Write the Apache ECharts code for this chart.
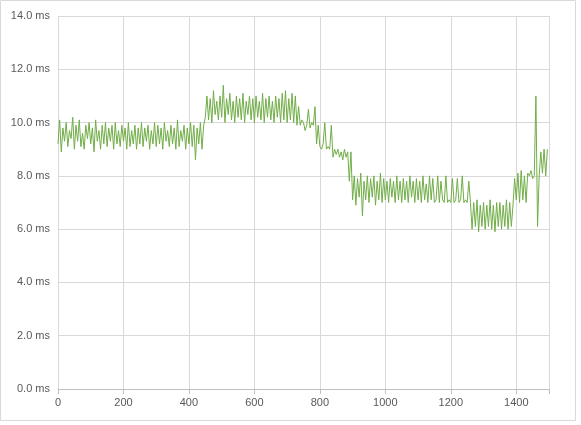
<!DOCTYPE html>
<html>
<head>
<meta charset="utf-8">
<script src="https://cdn.jsdelivr.net/npm/echarts@6/dist/echarts.min.js"></script>
<style>html,body{margin:0;padding:0;background:#fff}#chart{width:581px;height:425px}</style>
</head>
<body>
<div id="chart"></div>
<script>
// 采样间隔 5，数值从图上读出 (ms)
var step = 5;
var latency = [
 9.2,10.1,8.9,9.8,9.3,10.0,9.1,9.7,9.4,10.2,
 9.0,9.9,9.3,10.1,9.1,9.6,9.0,9.9,9.4,10.0,
 9.2,9.8,8.9,10.1,9.3,9.7,9.0,9.9,9.2,10.0,
 9.1,9.8,9.3,9.9,9.0,10.0,9.2,9.7,9.1,9.9,
 9.3,9.8,9.0,10.0,9.1,9.7,9.2,9.9,9.0,9.8,
 9.2,10.0,9.1,9.8,9.3,9.9,9.0,9.7,9.2,10.0,
 9.1,9.9,9.2,9.8,9.0,10.0,9.3,9.7,9.1,9.9,
 9.2,9.8,9.0,10.1,9.1,9.7,9.3,9.9,9.0,9.8,
 9.2,10.0,9.1,9.9,8.6,9.8,9.2,10.0,9.0,9.9,
 10.2,11.0,10.1,10.9,10.0,11.2,10.3,10.8,10.1,11.0,
 10.2,11.4,10.0,10.9,10.3,11.1,10.1,10.8,10.0,11.0,
 10.2,10.9,10.1,11.1,10.0,10.8,10.3,11.0,10.1,10.9,
 10.0,11.0,10.2,10.8,10.1,11.1,10.0,10.9,10.2,11.0,
 10.1,10.8,10.0,11.0,10.2,10.9,10.0,11.1,10.1,11.2,
 10.0,10.9,10.1,11.1,10.0,11.0,9.9,10.6,9.9,10.1,
 10.0,9.7,9.9,10.5,9.8,10.0,9.9,10.6,9.2,9.9,
 9.1,9.0,9.2,10.0,9.0,9.1,9.0,9.9,8.7,9.0,
 8.8,9.0,8.7,8.9,8.6,9.0,8.7,8.9,7.8,8.9,
 7.1,8.0,6.9,7.9,7.2,8.1,6.5,7.8,7.1,8.0,
 7.0,7.9,7.2,8.0,6.9,7.8,7.1,8.1,7.0,7.9,
 7.1,7.8,7.0,7.9,7.2,7.8,7.0,8.0,7.1,7.8,
 7.0,7.9,7.1,7.8,7.0,8.0,7.2,7.8,7.0,7.9,
 7.1,7.8,7.0,8.0,7.1,7.7,7.0,8.0,7.1,7.9,
 7.0,7.1,8.0,7.0,7.8,7.1,7.0,8.0,7.0,7.1,
 7.0,7.9,7.0,7.1,7.9,7.0,7.1,8.0,7.0,7.1,
 7.0,7.8,7.0,6.0,7.0,6.1,7.1,5.9,6.9,6.1,
 7.0,6.0,6.9,6.1,7.1,6.0,6.9,5.9,7.0,6.1,
 7.0,6.0,6.9,6.1,7.1,6.0,7.0,6.1,6.9,7.9,
 7.1,8.1,7.0,8.2,7.1,8.0,7.0,8.1,8.0,8.2,
 7.9,8.0,11.0,6.1,8.0,8.9,8.1,9.0,8.0,9.0
];

var points = [];
for (var i = 0; i < latency.length; i++) {
    points.push([i * step, latency[i]]);
}

var myChart = echarts.init(document.getElementById('chart'));
var option = {
    animation: false,
    textStyle: { fontFamily: 'Liberation Sans, Arial, sans-serif' },
    graphic: [{
        type: 'rect',
        shape: { x: 0.5, y: 0.5, width: 575, height: 420 },
        style: { fill: 'none', stroke: '#d9d9d9', lineWidth: 1 }
    }],
    grid: { left: 58, right: 32, top: 16, bottom: 36 },
    xAxis: {
        type: 'value',
        min: 0, max: 1500, interval: 200,
        axisLine: { lineStyle: { color: '#bfbfbf' } },
        axisTick: { show: true, lineStyle: { color: '#bfbfbf' } },
        axisLabel: {
            color: '#595959', fontSize: 11,
            formatter: function (v) { return v === 1500 ? '' : String(v); }
        },
        splitLine: { show: true, lineStyle: { color: '#d9d9d9' } }
    },
    yAxis: {
        type: 'value',
        min: 0, max: 14, interval: 2,
        axisLine: { show: false },
        axisTick: { show: false },
        axisLabel: {
            color: '#595959', fontSize: 11,
            formatter: function (v) { return v.toFixed(1) + ' ms'; }
        },
        splitLine: { lineStyle: { color: '#d9d9d9' } }
    },
    series: [{
        type: 'line',
        data: points,
        showSymbol: false,
        lineStyle: { color: '#70ad47', width: 1 },
        itemStyle: { color: '#70ad47' }
    }]
};
myChart.setOption(option);
</script>
</body>
</html>
